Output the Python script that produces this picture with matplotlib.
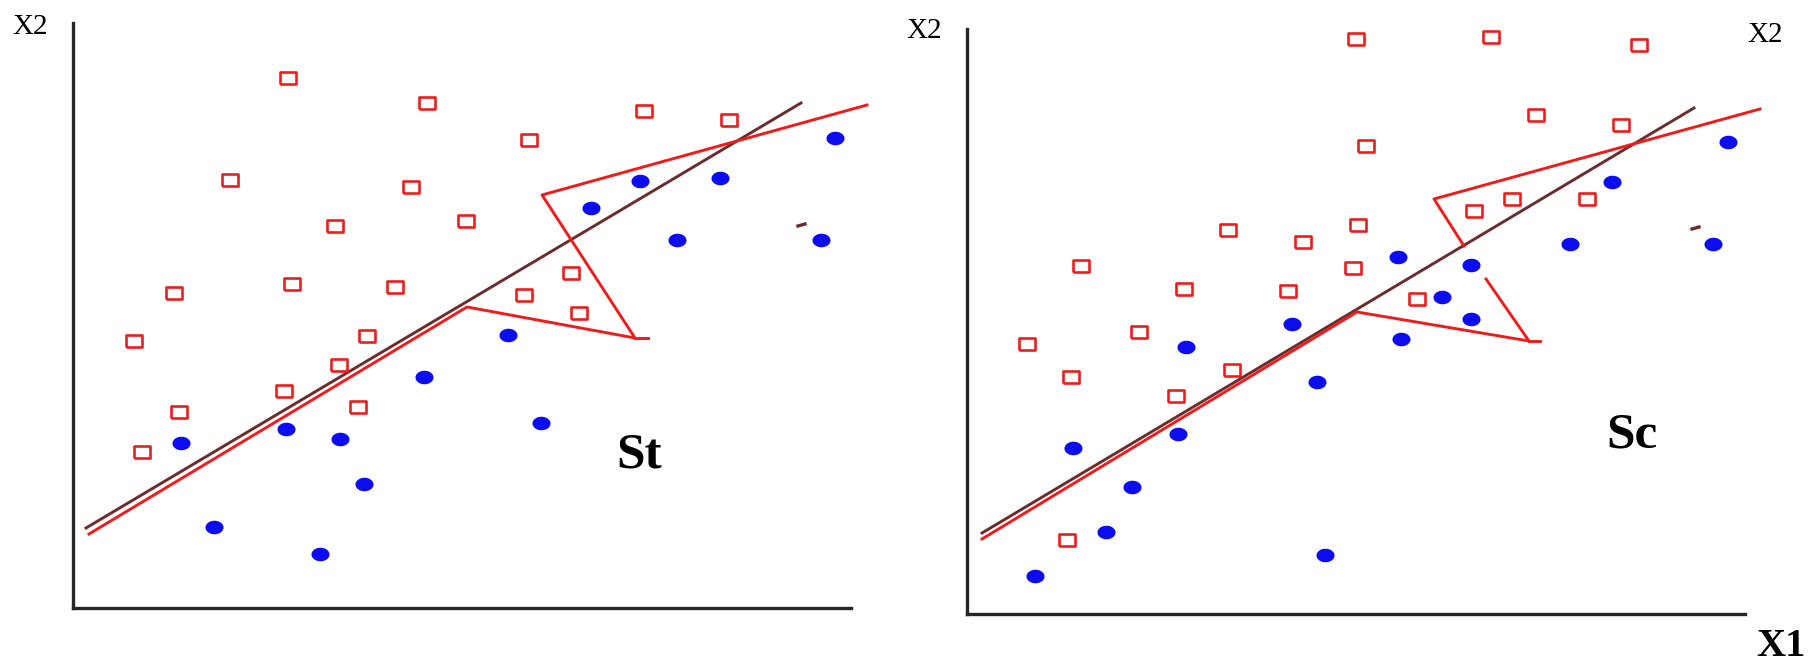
import numpy as np
import matplotlib
matplotlib.use("Agg")
import matplotlib.pyplot as plt

# 左图 St：两类样本（X1, X2）
st_red_x = [21.5, 35.4, 45.6, 57.1, 65.6, 15.7, 33.8, 26.2, 39.3, 10.1, 21.9,
            32.2, 49.8, 45.1, 50.6, 6.1, 29.4, 26.6, 21.1, 28.5, 10.6, 6.9]
st_red_y = [53.0, 50.5, 46.8, 49.7, 48.8, 42.8, 42.1, 38.2, 38.7, 31.5, 32.4,
            32.1, 33.5, 31.3, 29.5, 26.7, 27.2, 24.3, 21.7, 20.1, 19.6, 15.6]
st_blue_x = [76.2, 56.7, 64.7, 51.8, 60.4, 74.8, 43.5, 35.1, 46.8, 10.8, 21.3,
             26.7, 29.1, 14.1, 24.7]
st_blue_y = [47.0, 42.7, 43.0, 40.0, 36.8, 36.8, 27.3, 23.1, 18.5, 16.5, 17.9,
             16.9, 12.4, 8.1, 5.4]
# 分界线（棕色）与折线（红色）
st_line_x = [1.3, 72.8]
st_line_y = [8.0, 50.5]
st_poly_x = [1.6, 39.4, 56.2, 46.9, 79.4]
st_poly_y = [7.4, 30.1, 27.0, 41.3, 50.3]
st_tick_x = [56.2, 57.5]
st_tick_y = [27.0, 27.0]

# 右图 Sc
sc_red_x = [38.9, 52.4, 67.2, 56.9, 65.4, 39.9, 50.7, 54.5, 62.0, 26.1, 33.6,
            39.1, 11.4, 21.7, 32.1, 38.6, 45.0, 17.2, 6.0, 10.4, 26.5, 20.9, 10.0]
sc_red_y = [57.5, 57.7, 56.9, 49.9, 48.9, 46.8, 40.3, 41.5, 41.5, 38.4, 37.2,
            38.9, 34.8, 32.5, 32.3, 34.6, 31.5, 28.2, 27.0, 23.7, 24.4, 21.8, 7.4]
sc_blue_x = [76.1, 64.5, 60.3, 74.6, 43.1, 50.4, 47.5, 50.4, 43.4, 32.5, 21.9,
             35.0, 21.1, 10.6, 16.5, 13.9, 6.8, 35.8]
sc_blue_y = [47.2, 43.2, 37.0, 37.0, 35.7, 34.9, 31.7, 29.5, 27.5, 29.0, 26.7,
             23.2, 18.0, 16.6, 12.7, 8.2, 3.8, 5.9]
sc_line_x = [1.5, 72.7]
sc_line_y = [8.1, 50.6]
sc_poly_x = [1.5, 39.0, 56.2, 51.9]
sc_poly_y = [7.5, 30.2, 27.3, 33.5]
sc_poly2_x = [49.7, 46.7, 79.3]
sc_poly2_y = [36.8, 41.5, 50.5]
sc_tick_x = [56.2, 57.3]
sc_tick_y = [27.3, 27.3]

RED = "#ef1c1c"
BLUE = "#0c0cf0"
BROWN = "#6a2c2c"
AXIS = "#262626"

# 略扁的方框和椭圆点
sq = [(-1.33, -1), (1.33, -1), (1.33, 1), (-1.33, 1), (-1.33, -1)]
t = np.linspace(0, 2 * np.pi, 40)
ell = list(zip(1.33 * np.cos(t), np.sin(t)))

W, H = 1815, 667
fig = plt.figure(figsize=(W / 100, H / 100), dpi=100)


def panel(left_px, bottom_px, red_x, red_y, blue_x, blue_y, line_x, line_y,
          polys, tick, dash, label, label_xy):
    ax = fig.add_axes([left_px / W, bottom_px / H, 900 / W, 620 / H])
    ax.set_xlim(0, 90)
    ax.set_ylim(0, 62)
    ax.set_xticks([])
    ax.set_yticks([])
    for s in ("top", "right"):
        ax.spines[s].set_visible(False)
    for s in ("left", "bottom"):
        ax.spines[s].set_linewidth(2.4)
        ax.spines[s].set_color(AXIS)
    ax.spines["left"].set_bounds(0, 58.5)
    ax.spines["bottom"].set_bounds(0, 77.8)
    ax.patch.set_alpha(0)

    ax.plot(line_x, line_y, color=BROWN, lw=2.1, zorder=2)
    for px, py in polys:
        ax.plot(px, py, color=RED, lw=2.1, zorder=3)
    ax.plot(*tick, color=RED, lw=2.1, zorder=3)
    ax.plot(*dash, color=BROWN, lw=2.4, zorder=3)

    ax.plot(red_x, red_y, ls="none", marker=sq, ms=11, mfc="white",
            mec=RED, mew=1.9, zorder=4)
    ax.plot(blue_x, blue_y, ls="none", marker=ell, ms=13, mfc=BLUE,
            mec=BLUE, mew=0, zorder=4)
    ax.text(label_xy[0], label_xy[1], label, ha="center", va="baseline",
            fontsize=37, fontweight="bold", family="Liberation Serif")
    return ax


# 坐标原点：左图 (73, 608)，右图 (967, 614) 像素
panel(73, H - 608, st_red_x, st_red_y, st_blue_x, st_blue_y, st_line_x,
      st_line_y, [(st_poly_x, st_poly_y)], (st_tick_x, st_tick_y),
      ([72.5, 73.2], [38.2, 38.4]), "St", (56.6, 14.1))
panel(967, H - 614, sc_red_x, sc_red_y, sc_blue_x, sc_blue_y, sc_line_x,
      sc_line_y, [(sc_poly_x, sc_poly_y), (sc_poly2_x, sc_poly2_y)],
      (sc_tick_x, sc_tick_y), ([72.5, 73.2], [38.5, 38.7]), "Sc", (66.5, 16.7))

serif = "Liberation Serif"
fig.text(12 / W, 1 - 34 / H, "X2", fontsize=21, family=serif, va="baseline")
fig.text(906 / W, 1 - 38 / H, "X2", fontsize=21, family=serif, va="baseline")
fig.text(1747 / W, 1 - 42 / H, "X2", fontsize=21, family=serif, va="baseline")
fig.text(1756 / W, 1 - 665 / H, "X1", fontsize=29, fontweight="bold",
         family=serif, va="bottom")

fig.savefig("out.png", dpi=100, facecolor="white")
